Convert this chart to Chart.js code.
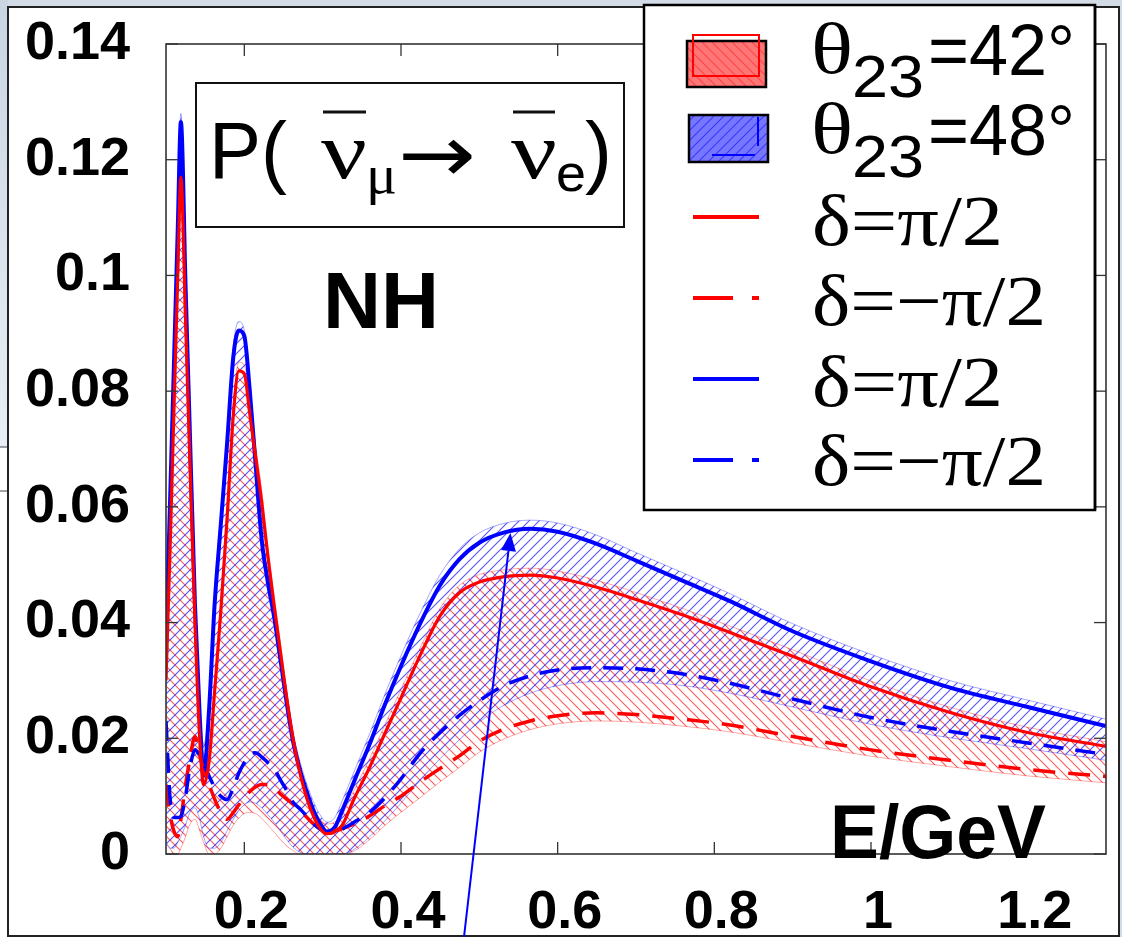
<!DOCTYPE html>
<html>
<head>
<meta charset="utf-8">
<script src="https://cdn.jsdelivr.net/npm/chart.js@4.4.0/dist/chart.umd.min.js"></script>
<style>
html, body { margin: 0; padding: 0; background: #d3dbe6; }
#wrap { position: relative; width: 1122px; height: 937px; }
</style>
</head>
<body>
<div id="wrap"><canvas id="grafico" width="1122" height="937"></canvas></div>
<script>
// Energia (GeV)
const energia = [0.10, 0.105, 0.11, 0.115, 0.119, 0.125, 0.13, 0.137, 0.143, 0.148, 0.155, 0.162, 0.17, 0.178, 0.186, 0.193, 0.2, 0.207, 0.214, 0.222, 0.23, 0.238, 0.246, 0.254, 0.262, 0.271, 0.28, 0.29, 0.298, 0.305, 0.315, 0.325, 0.34, 0.36, 0.38, 0.40, 0.425, 0.45, 0.475, 0.5, 0.53, 0.565, 0.6, 0.65, 0.7, 0.76, 0.82, 0.9, 1.0, 1.1, 1.2, 1.3];

// theta23 = 42, delta = pi/2 e -pi/2
const vermelhoCheio = [0.030, 0.052, 0.076, 0.100, 0.117, 0.092, 0.070, 0.040, 0.020, 0.012, 0.016, 0.028, 0.042, 0.058, 0.076, 0.0835, 0.083, 0.076, 0.069, 0.061, 0.0515, 0.043, 0.035, 0.027, 0.020, 0.014, 0.0095, 0.006, 0.0042, 0.0035, 0.0038, 0.005, 0.0095, 0.015, 0.021, 0.027, 0.0345, 0.0412, 0.0452, 0.047, 0.0479, 0.0482, 0.0477, 0.0461, 0.044, 0.0413, 0.0383, 0.0342, 0.0289, 0.0245, 0.021, 0.0186];
const vermelhoTracejado = [0.012, 0.007, 0.004, 0.003, 0.006, 0.012, 0.016, 0.0203, 0.017, 0.0145, 0.012, 0.0095, 0.0072, 0.006, 0.0072, 0.0085, 0.0098, 0.0108, 0.0116, 0.012, 0.012, 0.0114, 0.0104, 0.0095, 0.0086, 0.0075, 0.0063, 0.005, 0.0043, 0.0039, 0.004, 0.0044, 0.0052, 0.0066, 0.0084, 0.010, 0.0125, 0.0148, 0.017, 0.0195, 0.0215, 0.023, 0.0239, 0.0244, 0.0241, 0.0233, 0.0223, 0.0203, 0.018, 0.0162, 0.0146, 0.0134];

// theta23 = 48, delta = pi/2 e -pi/2
const azulCheio = [0.037, 0.060, 0.084, 0.108, 0.1265, 0.098, 0.075, 0.043, 0.024, 0.0135, 0.025, 0.043, 0.057, 0.071, 0.086, 0.0905, 0.0895, 0.080, 0.068, 0.0545, 0.047, 0.041, 0.0337, 0.0262, 0.0196, 0.0145, 0.0106, 0.007, 0.005, 0.0039, 0.0045, 0.0075, 0.0125, 0.019, 0.026, 0.0325, 0.040, 0.0465, 0.051, 0.0538, 0.0555, 0.0562, 0.0557, 0.0536, 0.0507, 0.0472, 0.0437, 0.0385, 0.0333, 0.0288, 0.0254, 0.0221];
const azulTracejado = [0.023, 0.010, 0.0063, 0.0063, 0.0065, 0.010, 0.0145, 0.018, 0.017, 0.0155, 0.0135, 0.0115, 0.010, 0.0094, 0.0115, 0.014, 0.0158, 0.0172, 0.0175, 0.0168, 0.0158, 0.0148, 0.0128, 0.011, 0.009, 0.0078, 0.0065, 0.005, 0.0042, 0.0037, 0.0038, 0.0043, 0.0055, 0.0072, 0.0098, 0.013, 0.0175, 0.021, 0.024, 0.0265, 0.029, 0.0308, 0.0318, 0.0322, 0.032, 0.0311, 0.0295, 0.0268, 0.0236, 0.0212, 0.0192, 0.0172];

// faixas (todas as fases delta)
const faixaVermelhaSup = [0.032, 0.054, 0.078, 0.102, 0.1185, 0.094, 0.072, 0.042, 0.022, 0.019, 0.019, 0.029, 0.044, 0.060, 0.078, 0.085, 0.0845, 0.078, 0.071, 0.063, 0.053, 0.0445, 0.0365, 0.0285, 0.0215, 0.0155, 0.011, 0.0075, 0.0058, 0.0052, 0.0055, 0.0068, 0.011, 0.0165, 0.0225, 0.0285, 0.0358, 0.0425, 0.0465, 0.0483, 0.0491, 0.0494, 0.0489, 0.0473, 0.0452, 0.0424, 0.0394, 0.0353, 0.0299, 0.0254, 0.0219, 0.0194];
const faixaVermelhaInf = [0.002, 0.001, 0, 0, 0.001, 0.003, 0.005, 0.006, 0.004, 0.002, 0, 0, 0.001, 0.003, 0.005, 0.0062, 0.007, 0.0072, 0.007, 0.0062, 0.005, 0.0038, 0.0025, 0.0014, 0.0006, 0, 0, 0, 0, 0, 0, 0, 0.0005, 0.0025, 0.005, 0.0072, 0.0098, 0.0125, 0.015, 0.0176, 0.0198, 0.0215, 0.0225, 0.023, 0.0228, 0.0221, 0.0211, 0.0192, 0.0169, 0.0151, 0.0135, 0.0123];
const faixaAzulSup = [0.039, 0.062, 0.086, 0.110, 0.128, 0.100, 0.077, 0.045, 0.026, 0.019, 0.026, 0.045, 0.059, 0.073, 0.088, 0.092, 0.0905, 0.0815, 0.0705, 0.058, 0.0515, 0.0425, 0.035, 0.0275, 0.021, 0.016, 0.012, 0.0085, 0.0065, 0.0055, 0.0062, 0.0092, 0.0142, 0.0208, 0.0278, 0.0343, 0.0418, 0.0483, 0.0528, 0.0555, 0.0571, 0.0577, 0.0572, 0.0551, 0.0521, 0.0486, 0.045, 0.0398, 0.0345, 0.03, 0.0266, 0.0233];
const faixaAzulInf = [0.002, 0.001, 0.001, 0.002, 0.003, 0.005, 0.007, 0.008, 0.006, 0.003, 0.001, 0.001, 0.002, 0.004, 0.006, 0.0075, 0.0085, 0.009, 0.0088, 0.008, 0.0068, 0.0055, 0.004, 0.0025, 0.0012, 0.0003, 0, 0, 0, 0, 0, 0, 0.0008, 0.003, 0.0058, 0.0088, 0.0128, 0.0165, 0.0198, 0.0228, 0.0256, 0.0278, 0.0291, 0.0298, 0.0297, 0.0291, 0.0278, 0.0254, 0.0224, 0.0201, 0.0182, 0.0162];

// Ticks
const xTicks = [0.2, 0.4, 0.6, 0.8, 1.0, 1.2];
const xTickLabels = ['0.2', '0.4', '0.6', '0.8', '1', '1.2'];
const yTicks = [0, 0.02, 0.04, 0.06, 0.08, 0.1, 0.12, 0.14];
const yTickLabels = ['0', '0.02', '0.04', '0.06', '0.08', '0.1', '0.12', '0.14'];

const SANS = '"Liberation Sans", Arial, sans-serif';
const SERIF = '"Liberation Serif", "Times New Roman", serif';

// Padrão de hachura
function hachura(cor, sentido) {
    const c = document.createElement('canvas');
    c.width = 10; c.height = 10;
    const g = c.getContext('2d');
    g.strokeStyle = cor;
    g.lineWidth = 1.1;
    g.beginPath();
    if (sentido === '/') {
        g.moveTo(-1, 11); g.lineTo(11, -1);
        g.moveTo(-1, 1); g.lineTo(1, -1);
        g.moveTo(9, 11); g.lineTo(11, 9);
    } else {
        g.moveTo(-1, -1); g.lineTo(11, 11);
        g.moveTo(9, -1); g.lineTo(11, 1);
        g.moveTo(-1, 9); g.lineTo(1, 11);
    }
    g.stroke();
    return g.createPattern(c, 'repeat');
}
const hachuraVermelha = hachura('rgba(255,60,60,0.85)', '\\');
const hachuraAzul = hachura('rgba(40,40,255,0.8)', '/');

const pontos = arr => energia.map((e, i) => ({ x: e, y: arr[i] }));

// Texto com largura ajustada
function texto(c, s, x, y, font, largura) {
    c.font = font;
    const w = c.measureText(s).width;
    c.save();
    c.translate(x, y);
    if (largura) c.scale(largura / w, 1);
    c.fillText(s, 0, 0);
    c.restore();
}

function linha(c, x1, y1, x2, y2) {
    c.beginPath(); c.moveTo(x1, y1); c.lineTo(x2, y2); c.stroke();
}

const desenhos = {
    id: 'desenhos',
    beforeDraw(chart) {
        const c = chart.ctx;
        c.save();
        c.fillStyle = '#d3dbe6';
        c.fillRect(0, 0, 1122, 937);
        const grad = c.createLinearGradient(0, 0, 0, 447);
        grad.addColorStop(0, '#c9d5e3');
        grad.addColorStop(1, '#e8eef5');
        c.fillStyle = grad;
        c.fillRect(0, 0, 8, 447);
        c.fillStyle = '#fff';
        c.fillRect(0, 447, 8, 490);
        c.strokeStyle = '#444'; c.lineWidth = 1;
        linha(c, 0, 447, 8, 447);
        linha(c, 0, 491, 8, 491);
        c.fillStyle = '#fff';
        c.fillRect(8, 7, 1111, 929);
        c.strokeStyle = '#222'; c.lineWidth = 2;
        c.strokeRect(8, 7, 1111, 929);
        c.restore();
    },
    afterDatasetsDraw(chart) {
        const c = chart.ctx;
        const { left, right, top, bottom } = chart.chartArea;
        const sx = chart.scales.x, sy = chart.scales.y;
        c.save();
        c.strokeStyle = '#333'; c.lineWidth = 1.6;
        c.strokeRect(left, top, right - left, bottom - top);
        c.lineWidth = 1.3;
        xTicks.forEach(v => {
            const px = sx.getPixelForValue(v);
            linha(c, px, bottom, px, bottom - 12);
            linha(c, px, top, px, top + 12);
        });
        yTicks.forEach(v => {
            const py = sy.getPixelForValue(v);
            linha(c, left, py, left + 12, py);
            linha(c, right, py, right - 12, py);
        });
        c.restore();
    },
    afterDraw(chart) {
        const c = chart.ctx;
        c.save();
        c.fillStyle = '#000';
        c.textBaseline = 'alphabetic';
        c.textAlign = 'left';

        // caixa do título
        c.fillStyle = '#fff';
        c.fillRect(196, 83, 428, 144);
        c.strokeStyle = '#111'; c.lineWidth = 2;
        c.strokeRect(196, 83, 428, 144);
        c.fillStyle = '#000';
        texto(c, 'P(', 209, 178, '80px ' + SANS, 78);
        texto(c, 'ν', 321, 178, '80px ' + SERIF, 46);
        texto(c, 'μ', 366, 193, '54px ' + SERIF, 31);
        texto(c, '→', 398, 182, '80px "DejaVu Sans"', 78);
        texto(c, 'ν', 511, 178, '80px ' + SERIF, 46);
        texto(c, 'e', 556, 191, '52px ' + SANS, 30);
        texto(c, ')', 585, 178, '80px ' + SANS, 27);
        c.strokeStyle = '#111';
        c.lineWidth = 3;
        linha(c, 323, 112, 366, 112);
        linha(c, 513, 112, 555, 112);

        // NH e E/GeV
        texto(c, 'NH', 323, 328, 'bold 80px ' + SANS, 116);
        texto(c, 'E/GeV', 830, 858, 'bold 76px ' + SANS, 216);

        // legenda
        c.fillStyle = '#fff';
        c.fillRect(644, 5, 451, 505);
        c.strokeStyle = '#000'; c.lineWidth = 2.5;
        c.strokeRect(644, 5, 451, 505);

        c.fillStyle = 'rgba(255,60,60,0.7)';
        c.fillRect(687, 41, 79, 46);
        c.fillStyle = hachuraVermelha;
        c.fillRect(687, 41, 79, 46);
        c.strokeStyle = '#000'; c.lineWidth = 2.5;
        c.strokeRect(687, 41, 79, 46);
        c.strokeStyle = '#ff0000'; c.lineWidth = 2;
        c.strokeRect(693, 35, 66, 41);

        c.fillStyle = 'rgba(60,60,255,0.7)';
        c.fillRect(689, 115, 79, 47);
        c.fillStyle = hachuraAzul;
        c.fillRect(689, 115, 79, 47);
        c.strokeStyle = '#000'; c.lineWidth = 2.5;
        c.strokeRect(689, 115, 79, 47);
        c.strokeStyle = '#0000ff'; c.lineWidth = 2;
        linha(c, 758, 117, 758, 146);
        linha(c, 712, 155, 755, 155);

        c.lineWidth = 4;
        c.strokeStyle = '#ff0000';
        linha(c, 693, 217, 759, 217);
        linha(c, 693, 298, 733, 298);
        linha(c, 752, 298, 759, 298);
        c.strokeStyle = '#0000ff';
        linha(c, 693, 379, 759, 379);
        linha(c, 693, 460, 733, 460);
        linha(c, 752, 460, 759, 460);

        c.fillStyle = '#000';
        [['42', 75, 97], ['48', 155, 177]].forEach(([ang, base, sub]) => {
            texto(c, 'θ', 811, base - 2, '72px ' + SERIF, 42);
            texto(c, '23', 852, sub, '60px ' + SANS, 72);
            c.save();
            c.beginPath(); c.rect(0, 0, 1098, 937); c.clip();
            texto(c, '=' + ang + '° (', 928, base, '72px ' + SANS, 190);
            c.restore();
        });
        c.strokeStyle = '#000'; c.lineWidth = 2.5;
        linha(c, 1095, 5, 1095, 510);
        texto(c, 'δ=π/2', 812, 245, '72px ' + SERIF, 191);
        texto(c, 'δ=−π/2', 812, 325, '72px ' + SERIF, 234);
        texto(c, 'δ=π/2', 812, 406, '72px ' + SERIF, 191);
        texto(c, 'δ=−π/2', 812, 485, '72px ' + SERIF, 234);

        // seta azul
        const x0 = 464, y0 = 937, x1 = 510.5, y1 = 533;
        const dx = x1 - x0, dy = y1 - y0, L = Math.hypot(dx, dy);
        const ux = dx / L, uy = dy / L;
        const bx = x1 - ux * 18, by = y1 - uy * 18;
        c.strokeStyle = '#0000ff'; c.fillStyle = '#0000ff'; c.lineWidth = 2;
        linha(c, x0, y0, bx, by);
        c.beginPath();
        c.moveTo(x1, y1);
        c.lineTo(bx - uy * 7.5, by + ux * 7.5);
        c.lineTo(bx + uy * 7.5, by - ux * 7.5);
        c.closePath();
        c.fill();
        c.restore();
    }
};

const comum = { pointRadius: 0, cubicInterpolationMode: 'monotone' };

const ctx = document.getElementById('grafico').getContext('2d');
const grafico = new Chart(ctx, {
    type: 'line',
    data: {
        datasets: [
            { ...comum, label: 'faixa42inf', data: pontos(faixaVermelhaInf), borderColor: 'rgba(255,0,0,0.35)', borderWidth: 1, fill: false, order: 3 },
            { ...comum, label: 'θ23=42°', data: pontos(faixaVermelhaSup), borderColor: 'rgba(255,0,0,0.35)', borderWidth: 1, backgroundColor: hachuraVermelha, fill: '-1', order: 3 },
            { ...comum, label: 'faixa48inf', data: pontos(faixaAzulInf), borderColor: 'rgba(0,0,255,0.35)', borderWidth: 1, fill: false, order: 2 },
            { ...comum, label: 'θ23=48°', data: pontos(faixaAzulSup), borderColor: 'rgba(0,0,255,0.35)', borderWidth: 1, backgroundColor: hachuraAzul, fill: '-1', order: 2 },
            { ...comum, label: 'δ=-π/2 (48°)', data: pontos(azulTracejado), borderColor: '#0000ff', borderWidth: 3.5, borderDash: [20, 12], fill: false, order: 1 },
            { ...comum, label: 'δ=-π/2 (42°)', data: pontos(vermelhoTracejado), borderColor: '#ff0000', borderWidth: 3.5, borderDash: [22, 13], fill: false, order: 1 },
            { ...comum, label: 'δ=π/2 (48°)', data: pontos(azulCheio), borderColor: '#0000ff', borderWidth: 4, fill: false, order: 1 },
            { ...comum, label: 'δ=π/2 (42°)', data: pontos(vermelhoCheio), borderColor: '#ff0000', borderWidth: 3.2, fill: false, order: 0 }
        ]
    },
    options: {
        responsive: false,
        animation: false,
        devicePixelRatio: 1,
        layout: { padding: { left: 0, right: 16, top: 44, bottom: 0 } },
        plugins: {
            legend: { display: false },
            tooltip: { enabled: false },
            filler: { propagate: false }
        },
        scales: {
            x: {
                type: 'linear', min: 0.1, max: 1.3,
                afterBuildTicks: s => { s.ticks = xTicks.map(v => ({ value: v })); },
                afterFit: s => { s.height = 83; s.paddingLeft = 0; s.paddingRight = 0; },
                grid: { display: false, drawTicks: false },
                border: { display: false },
                ticks: {
                    font: { family: SANS, size: 54, weight: 'bold' }, color: '#000',
                    padding: 27, labelOffset: 7, maxRotation: 0, autoSkip: false,
                    callback: (v, i) => xTickLabels[i]
                }
            },
            y: {
                type: 'linear', min: 0, max: 0.14,
                afterBuildTicks: s => { s.ticks = yTicks.map(v => ({ value: v })); },
                afterFit: s => { s.width = 166; s.paddingTop = 0; s.paddingBottom = 0; },
                grid: { display: false, drawTicks: false },
                border: { display: false },
                ticks: {
                    font: { family: SANS, size: 54, weight: 'bold' }, color: '#000',
                    padding: 36, autoSkip: false,
                    callback: (v, i) => yTickLabels[i]
                }
            }
        }
    },
    plugins: [desenhos]
});
</script>
</body>
</html>
